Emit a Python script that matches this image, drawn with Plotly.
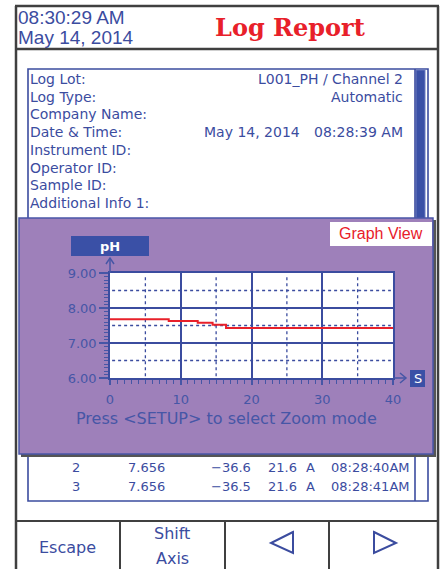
import plotly.graph_objects as go

# ---------------- data ----------------
time_s = [0, 8.3, 12.4, 14.5, 16.4, 40]
ph_values = [7.68, 7.63, 7.58, 7.52, 7.43, 7.43]

x_tick_vals = [0, 10, 20, 30, 40]
x_tick_text = ["0", "10", "20", "30", "40"]
y_tick_vals = [6, 7, 8, 9]
y_tick_text = ["6.00", "7.00", "8.00", "9.00"]
x_dotted = [5, 15, 25, 35]
y_dotted = [6.5, 7.5, 8.5]

clock_time = "08:30:29 AM"
clock_date = "May 14, 2014"
title_text = "Log Report"

info_labels = ["Log Lot:", "Log Type:", "Company Name:", "Date &amp; Time:",
               "Instrument ID:", "Operator ID:", "Sample ID:", "Additional Info 1:"]
info_values = ["L001_PH / Channel 2", "Automatic", "", "", "", "", "", ""]
log_date = "May 14, 2014"
log_time = "08:28:39 AM"

reading_no = ["2", "3"]
reading_ph = ["7.656", "7.656"]
reading_mv = ["\u221236.6", "\u221236.5"]
reading_temp = ["21.6", "21.6"]
reading_unit = ["A", "A"]
reading_time = ["08:28:40AM", "08:28:41AM"]

# ---------------- styling helpers ----------------
W, H = 445, 569
BLUE = "#3b4c9f"
TICKBLUE = "#4656a6"
DARKBLUE = "#3a50a6"
RED = "#e8202a"
PURPLE = "rgb(158,128,186)"
FRAME = "#404040"


def X(p):
    return p / W


def Y(p):
    return 1 - p / H


shapes = []
annotations = []


def rect(x0, y0, x1, y1, fill, line_color=None, lw=0, layer="below"):
    shapes.append(dict(type="rect", xref="paper", yref="paper",
                       x0=X(x0), x1=X(x1), y0=Y(y1), y1=Y(y0),
                       fillcolor=fill,
                       line=dict(color=line_color or fill, width=lw),
                       layer=layer))


def line(x0, y0, x1, y1, color, lw, layer="below"):
    shapes.append(dict(type="line", xref="paper", yref="paper",
                       x0=X(x0), x1=X(x1), y0=Y(y0), y1=Y(y1),
                       line=dict(color=color, width=lw), layer=layer))


def path(pts, color, lw, closed=False, layer="above"):
    d = "M " + " L ".join(f"{X(a):.5f},{Y(b):.5f}" for a, b in pts)
    if closed:
        d += " Z"
    shapes.append(dict(type="path", xref="paper", yref="paper", path=d,
                       line=dict(color=color, width=lw), layer=layer))


def text(s, x, y, size, color=BLUE, anchor="left", family="DejaVu Sans", weight=None):
    f = dict(size=size, color=color, family=family)
    if weight:
        f["weight"] = weight
    annotations.append(dict(text=s, x=X(x), y=Y(y), xref="paper", yref="paper",
                            xanchor=anchor, yanchor="middle", showarrow=False,
                            borderpad=0, font=f))


# ---------------- outer frame ----------------
line(16, 6, 16, 569, FRAME, 2.5)
line(438, 6, 438, 569, FRAME, 2.5)
line(15, 6, 439, 6, FRAME, 2.5)
line(16, 49, 438, 49, FRAME, 2.5)
line(16, 521, 438, 521, FRAME, 2)
for bx in [120, 225, 329]:
    line(bx, 521, bx, 569, FRAME, 2)

# header text
text(clock_time, 17, 17, 19, family="Liberation Sans")
text(clock_date, 17, 38, 19, family="Liberation Sans")
text(title_text, 290, 28, 24, RED, anchor="center", family="DejaVu Serif, serif", weight="bold")

# ---------------- log table ----------------
rect(28, 69, 428, 501, "white", BLUE, 1.6)
rect(416, 70, 425, 230, DARKBLUE, "#6b7bc0", 1)
line(415, 69, 415, 501, BLUE, 1.6)

row_y0, row_dy = 79, 17.7
for i, lab in enumerate(info_labels):
    yy = row_y0 + i * row_dy
    text(lab, 29, yy, 14)
    if info_values[i]:
        text(info_values[i], 404, yy, 14, anchor="right")
text(log_date, 301, row_y0 + 3 * row_dy, 14, anchor="right")
text(log_time, 404, row_y0 + 3 * row_dy, 14, anchor="right")

for i in range(len(reading_no)):
    yy = 467 + i * 19
    text(reading_no[i], 76, yy, 13, anchor="center")
    text(reading_ph[i], 127, yy, 13)
    text(reading_mv[i], 252, yy, 13, anchor="right")
    text(reading_temp[i], 267, yy, 13)
    text(reading_unit[i], 305, yy, 13)
    text(reading_time[i], 411, yy, 13, anchor="right")

# ---------------- graph overlay ----------------
rect(21, 220, 436, 457, "#555555")
rect(19, 218, 433, 454, PURPLE, "#4a56a8", 1.5)
rect(330, 222, 432, 246, "white")
text("Graph View", 381, 234, 16, RED, anchor="center", family="Liberation Sans")
rect(71, 236, 149, 256, DARKBLUE)
text("<b>pH</b>", 110, 246, 13, "white", anchor="center")
rect(410, 370, 425, 387, DARKBLUE)
text("S", 417.5, 378.5, 13, "white", anchor="center")

# axis extensions with arrowheads
line(110, 273, 110, 258, TICKBLUE, 1.5, layer="above")
path([(106, 264), (110, 258), (114, 264)], TICKBLUE, 1.5)
line(393, 378, 406, 378, TICKBLUE, 1.5, layer="above")
path([(400, 373), (406, 378), (400, 383)], TICKBLUE, 1.5)

text("Press &lt;SETUP&gt; to select Zoom mode", 226.5, 418, 16, TICKBLUE, anchor="center")

# buttons
text("Escape", 67, 547, 16, anchor="center")
text("Shift", 172, 533, 16, anchor="center")
text("Axis", 172, 558, 16, anchor="center")
path([(293, 532), (271, 543), (293, 553)], BLUE, 2, closed=True)
path([(374, 532), (396, 543), (374, 553)], BLUE, 2, closed=True)

# white plot area (axis referenced) and dotted half-grid
shapes.append(dict(type="rect", xref="x", yref="y", x0=0, x1=40, y0=6, y1=9,
                   fillcolor="white", line=dict(width=0), layer="below"))
for xv in x_dotted:
    shapes.append(dict(type="line", xref="x", yref="y", x0=xv, x1=xv, y0=6.05, y1=8.95,
                       line=dict(color=BLUE, width=1.3, dash="dot"), layer="between"))
for yv in y_dotted:
    shapes.append(dict(type="line", xref="x", yref="y", x0=0.3, x1=39.7, y0=yv, y1=yv,
                       line=dict(color=BLUE, width=1.3, dash="dot"), layer="between"))

fig = go.Figure()
fig.add_trace(go.Scatter(x=time_s, y=ph_values, mode="lines",
                         line=dict(color=RED, width=2, shape="hv"),
                         hoverinfo="skip", showlegend=False))

axis_common = dict(showline=True, linecolor=BLUE, linewidth=1.6, mirror=True,
                   showgrid=True, gridcolor=BLUE, gridwidth=1.6, zeroline=False,
                   ticks="outside", tickcolor=TICKBLUE, tickwidth=1.5,
                   tickfont=dict(family="DejaVu Sans", size=13, color=TICKBLUE),
                   automargin=False, fixedrange=True, tickmode="array")

fig.update_layout(
    width=W, height=H,
    margin=dict(l=0, r=0, t=0, b=0),
    paper_bgcolor="white", plot_bgcolor="rgba(0,0,0,0)",
    showlegend=False,
    xaxis=dict(domain=[X(110), X(393)], range=[0, 40],
               tickvals=x_tick_vals, ticktext=x_tick_text, ticklen=5,
               ticklabelstandoff=4,
               minor=dict(tickmode="linear", tick0=0, dtick=1, ticks="outside",
                          ticklen=4, tickcolor=TICKBLUE, tickwidth=1.2, showgrid=False),
               **axis_common),
    yaxis=dict(domain=[Y(378), Y(273)], range=[6, 9],
               tickvals=y_tick_vals, ticktext=y_tick_text, ticklen=9,
               minor=dict(tickmode="linear", tick0=6, dtick=0.1, ticks="outside",
                          ticklen=4, tickcolor=TICKBLUE, tickwidth=1, showgrid=False),
               **axis_common),
    shapes=shapes,
    annotations=annotations,
)

fig.write_html("out.html", config={"displayModeBar": False},
               post_script="document.body.style.margin='0';document.body.style.overflow='hidden';")
